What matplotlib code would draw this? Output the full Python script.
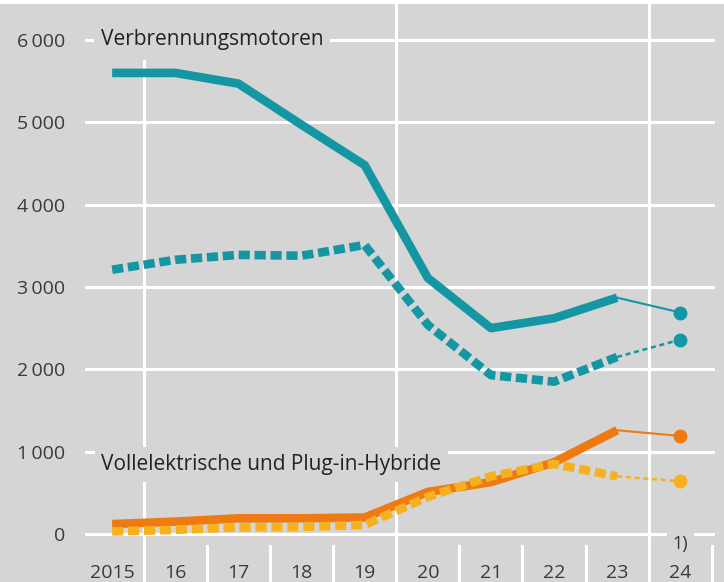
import matplotlib
matplotlib.use("Agg")
import matplotlib.pyplot as plt
from matplotlib.patches import Rectangle

years = [2015, 2016, 2017, 2018, 2019, 2020, 2021, 2022, 2023, 2024]
xlabels = ["2015", "16", "17", "18", "19", "20", "21", "22", "23", "24"]
verbrenner_solid = [5600, 5600, 5470, 4970, 4480, 3110, 2500, 2620, 2870, 2690]
verbrenner_dash = [3210, 3330, 3390, 3380, 3510, 2540, 1930, 1850, 2150, 2360]
elektro_solid = [120, 150, 190, 190, 200, 510, 630, 870, 1260, 1190]
elektro_dash = [30, 50, 80, 85, 110, 450, 700, 850, 700, 640]
yticks = [0, 1000, 2000, 3000, 4000, 5000, 6000]
yticklabels = ["0", "1\u2009000", "2\u2009000", "3\u2009000", "4\u2009000", "5\u2009000", "6\u2009000"]

TEAL = "#1497a2"
ORANGE = "#ee7a12"
YELLOW = "#f5b21e"
BG = "#d5d5d5"

plt.rcParams["font.family"] = ["Open Sans", "DejaVu Sans"]

fig = plt.figure(figsize=(7.24, 5.82), dpi=100, facecolor=BG)
fig.patches.append(Rectangle((0, 1 - 4 / 582), 1, 4 / 582, transform=fig.transFigure,
                             facecolor="white", edgecolor="none", zorder=0))
ax = fig.add_axes([85 / 724, 37 / 582, 630 / 724, 540 / 582])
ax.set_facecolor(BG)
for s in ax.spines.values():
    s.set_visible(False)

ax.set_xlim(2014.57, 2024.55)
ax.set_ylim(-134, 6425)

# horizontal grid
for yv in yticks:
    ax.axhline(yv, color="white", lw=2.2, zorder=1)
# vertical grid lines
for xv in [2015.5, 2019.5, 2023.5]:
    top = 5750 if xv == 2015.5 else 6425
    ax.plot([xv, xv], [-700, top], color="white", lw=2.2, zorder=1, clip_on=False)
# separators in label row
for xv in [2016.5, 2017.5, 2018.5, 2020.5, 2021.5, 2022.5, 2024.5]:
    ax.plot([xv, xv], [-150, -700], color="white", lw=2.2, zorder=1, clip_on=False)

ax.set_yticks(yticks)
ax.set_yticklabels(yticklabels, fontsize=14, color="#3a3a3a")
ax.set_xticks(years)
ax.set_xticklabels(xlabels, fontsize=14, color="#3a3a3a")
ax.tick_params(axis="both", length=0)
ax.tick_params(axis="y", pad=14)
ax.tick_params(axis="x", pad=14)

def series(vals, color, dashed):
    if dashed:
        ax.plot(years[:-1], vals[:-1], color=color, lw=6.2, linestyle=(0, (1.3, 0.55)),
                dash_capstyle="butt", solid_joinstyle="miter", zorder=3)
        ax.plot(years[-2:], vals[-2:], color=color, lw=1.8, linestyle=(0, (2, 1.5)), zorder=3)
    else:
        ax.plot(years[:-1], vals[:-1], color=color, lw=6.2, solid_capstyle="butt", zorder=3)
        ax.plot(years[-2:], vals[-2:], color=color, lw=1.5, zorder=3)
    ax.plot(years[-1], vals[-1], "o", color=color, markersize=9, zorder=4)

series(verbrenner_solid, TEAL, False)
series(verbrenner_dash, TEAL, True)
series(elektro_solid, ORANGE, False)
series(elektro_dash, YELLOW, True)

ax.text(2014.82, 6000, "Verbrennungsmotoren", fontsize=15, color="#222222", va="center",
        ha="left", zorder=2, bbox=dict(facecolor=BG, edgecolor="none", pad=5))
ax.text(2014.83, 840, "Vollelektrische und Plug-in-Hybride", fontsize=15, color="#222222",
        va="center", ha="left", zorder=2, bbox=dict(facecolor=BG, edgecolor="none", pad=5))
ax.text(2024.0, -120, "1)", fontsize=13, color="#333333", va="center", ha="center",
        zorder=2, bbox=dict(facecolor=BG, edgecolor="none", pad=4))

fig.savefig("out.png", dpi=100, facecolor=BG)
